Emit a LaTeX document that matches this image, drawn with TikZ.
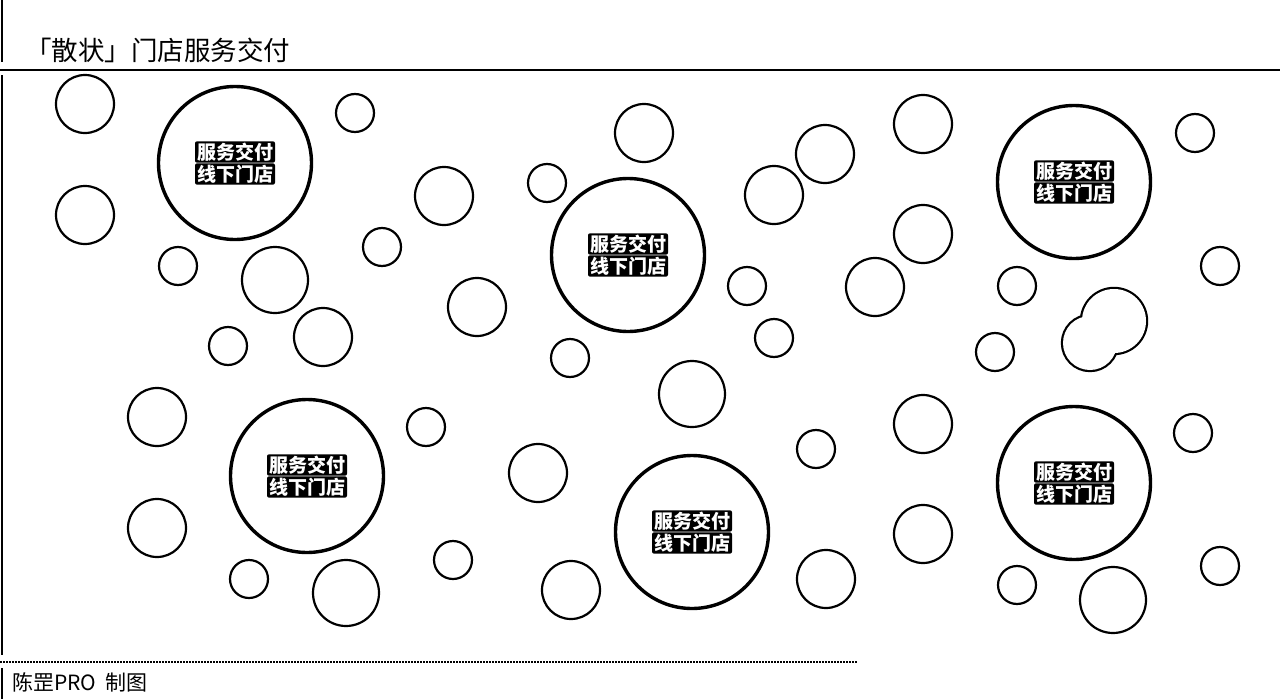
\documentclass[tikz,border=0pt]{standalone}
\usepackage{fontspec}
\setmainfont{Noto Sans CJK SC}
\tikzset{
  bub/.style={circle,draw=black,line width=2.2pt,inner sep=0pt,minimum size=#1},
  big/.style={circle,draw=black,line width=3.4pt,inner sep=0pt,minimum size=#1},
  tag/.style={fill=black,text=white,inner xsep=2pt,inner ysep=1.5pt,rounded corners=2pt,font=\fontsize{19}{19}\selectfont\bfseries},
  rule/.style={line width=1.8pt,black},
}
\begin{document}
\begin{tikzpicture}[x=1pt,y=-1pt]
\useasboundingbox (0,0) rectangle (1280,699);
% frame lines
\coordinate (v1a) at (2,0); \coordinate (v1b) at (2,62);
\coordinate (v2a) at (2,75); \coordinate (v2b) at (2,655);
\coordinate (v3a) at (2,668); \coordinate (v3b) at (2,699);
\draw[rule] (v1a) -- (v1b);
\draw[rule] (v2a) -- (v2b);
\draw[rule] (v3a) -- (v3b);
\coordinate (h1) at (0,70); \coordinate (h2) at (1280,70);
\draw[rule] (h1) -- (h2);
\coordinate (d1) at (0,662); \coordinate (d2) at (858,662);
\draw[line width=1.5pt,dash pattern=on 1.5pt off 1.5pt] (d1) -- (d2);
% title and footer
\node[anchor=base west,inner sep=0pt,font=\fontsize{26.5}{26.5}\selectfont] (title) at (25,60) {「散状」门店服务交付};
\node[anchor=base west,inner sep=0pt,font=\fontsize{21}{21}\selectfont] (foot) at (12,690) {陈罡PRO\ \ 制图};
% small bubbles
\foreach \x/\y/\r [count=\i] in {
 85/104/29, 85/215/29, 355/113/19, 178/266/19, 275/280/33, 228/346/19, 323/337/29,
 444/196/29, 382/247/19, 477/307/29, 547/183/19, 644/133/29, 570/358/19, 692/394/33,
 774/195/29, 825/154/29, 747/286/19, 774/338/19, 875/287/29, 923/124/29, 923/234/29,
 1017/286/19, 995/352/19, 1195/133/19, 1220/266/19,
 157/417/29, 157/528/29, 426/427/19, 538/473/29, 453/560/19, 249/579/19, 346/593/33,
 571/590/29, 816/449/19, 826/579/29, 923/424/29, 923/534/29, 1193/433/19, 1220/566/19,
 1017/585/19, 1113/600/33}
  \node[bub=2*\r pt] (s\i) at (\x,\y) {};
% overlapping pair (outline of union)
\node[circle,draw=black,line width=4.4pt,inner sep=0pt,minimum size=64pt] (ovA) at (1114,321) {};
\node[circle,draw=black,line width=4.4pt,inner sep=0pt,minimum size=54pt] (ovB) at (1090,343) {};
\fill[white] (ovA.center) circle (32pt);
\fill[white] (ovB.center) circle (27pt);
% big labelled circles
\foreach \x/\y [count=\i] in {235/163, 628/255, 1074/182, 307/476, 692/532, 1074/483}{
  \node[big=153pt] (B\i) at (\x,\y) {};
  \node[tag] (B\i a) at ([yshift=11pt]B\i.center) {服务交付};
  \node[tag] (B\i b) at ([yshift=-11pt]B\i.center) {线下门店};
}
\end{tikzpicture}
\end{document}
